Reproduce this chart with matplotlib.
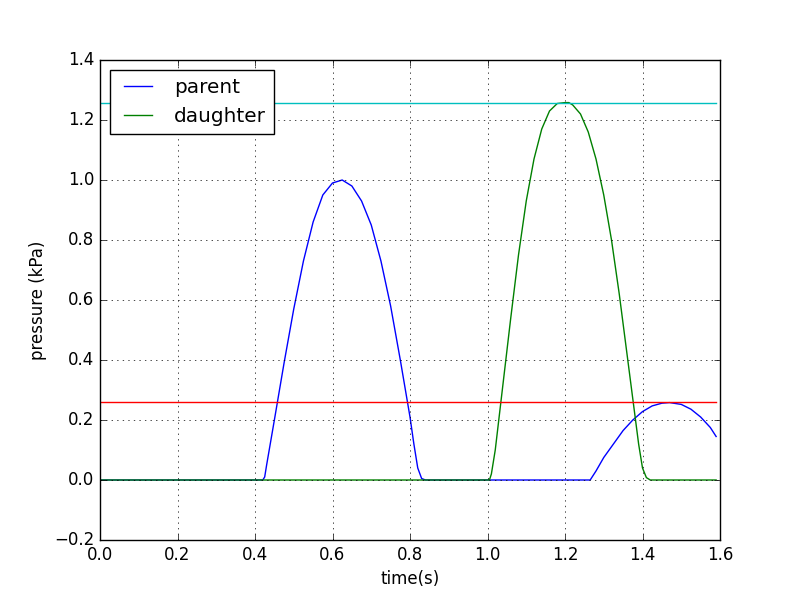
import matplotlib
matplotlib.use("Agg")
import matplotlib.pyplot as plt

# 値は図から読み取り
parent_t = [0.0, 0.42, 0.425, 0.43, 0.45, 0.475, 0.5, 0.525, 0.55, 0.575, 0.6, 0.625,
            0.65, 0.675, 0.7, 0.725, 0.75, 0.775, 0.8, 0.81, 0.82, 0.83, 0.84,
            1.265, 1.28, 1.3, 1.325, 1.35, 1.375, 1.4, 1.425, 1.45, 1.47, 1.5,
            1.525, 1.55, 1.575, 1.59]
parent_p = [0.0, 0.0, 0.01, 0.05, 0.2, 0.39, 0.57, 0.73, 0.86, 0.95, 0.99, 1.0,
            0.98, 0.93, 0.85, 0.73, 0.58, 0.4, 0.21, 0.12, 0.04, 0.005, 0.0,
            0.0, 0.03, 0.075, 0.12, 0.165, 0.2, 0.228, 0.247, 0.256, 0.258, 0.252,
            0.236, 0.21, 0.175, 0.145]

daughter_t = [0.0, 1.005, 1.01, 1.02, 1.04, 1.06, 1.08, 1.1, 1.12, 1.14, 1.16, 1.18,
              1.2, 1.21, 1.22, 1.24, 1.26, 1.28, 1.3, 1.32, 1.34, 1.36, 1.38, 1.39,
              1.4, 1.41, 1.42, 1.59]
daughter_p = [0.0, 0.0, 0.02, 0.1, 0.32, 0.54, 0.75, 0.93, 1.07, 1.17, 1.23, 1.255,
              1.258, 1.258, 1.25, 1.22, 1.16, 1.07, 0.95, 0.8, 0.62, 0.42, 0.22, 0.12,
              0.04, 0.008, 0.0, 0.0]

line_t = [0.0, 1.59]
upper_level = 1.258
lower_level = 0.26

plt.style.use("classic")
fig = plt.figure(figsize=(8, 6), dpi=100, facecolor="white")
ax = fig.add_subplot(111)
ax.plot(parent_t, parent_p, color="b", label="parent")
ax.plot(daughter_t, daughter_p, color="g", label="daughter")
ax.plot(line_t, [upper_level, upper_level], color="c")
ax.plot(line_t, [lower_level, lower_level], color="r")
ax.set_xlim(0, 1.6)
ax.set_ylim(-0.2, 1.4)
ax.set_xlabel("time(s)")
ax.set_ylabel("pressure (kPa)")
ax.grid(True)
ax.legend(loc="upper left", fontsize="large")
fig.savefig("out.png", dpi=100, facecolor="white")
